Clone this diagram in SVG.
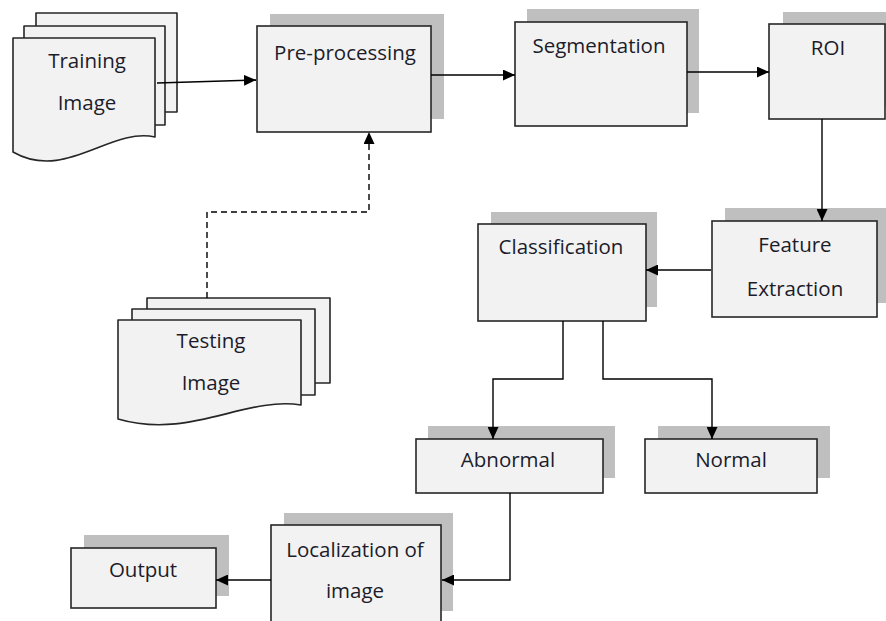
<svg xmlns="http://www.w3.org/2000/svg" width="886" height="621" viewBox="0 0 886 621">
  <defs>
    <marker id="arrow" viewBox="0 0 12 11" refX="12" refY="5.5" markerWidth="12" markerHeight="11" markerUnits="userSpaceOnUse" orient="auto">
      <path d="M0,0 L12,5.5 L0,11 Z" fill="#000"/>
    </marker>
    <style>
      .shadow { fill: #bfbfbf; stroke: none; }
      .box { fill: #f2f2f2; stroke: #262626; stroke-width: 1.6; }
      .page { fill: #f2f2f2; stroke: #262626; stroke-width: 1.6; stroke-linejoin: round; }
      .label { font-family: "Open Sans", "Noto Sans", "Liberation Sans", sans-serif; font-size: 20.5px; fill: #1c1c2a; text-anchor: middle; }
      .conn { fill: none; stroke: #000; stroke-width: 1.4; }
      .dash { stroke-dasharray: 6 4; }
    </style>
  </defs>

  <rect width="886" height="621" fill="#ffffff"/>

  <!-- Training Image: stacked documents -->
  <g id="training-image">
    <rect class="page" x="36" y="13" width="141" height="99"/>
    <rect class="page" x="24" y="26" width="141" height="99"/>
    <path class="page" d="M13,152 V38 H155 V137 C110,127 65,182 13,152 Z"/>
    <text class="label" x="87" y="68">Training</text>
    <text class="label" x="87" y="110">Image</text>
  </g>

  <g id="pre-processing">
    <rect class="shadow" x="270" y="14" width="174" height="105"/>
    <rect class="box" x="257" y="26" width="174" height="106"/>
    <text class="label" x="345" y="60">Pre-processing</text>
  </g>

  <g id="segmentation">
    <rect class="shadow" x="527" y="9" width="172" height="104"/>
    <rect class="box" x="515" y="22" width="172" height="104"/>
    <text class="label" x="599" y="53">Segmentation</text>
  </g>

  <g id="roi">
    <rect class="shadow" x="783" y="12" width="116" height="95"/>
    <rect class="box" x="769" y="24" width="116" height="95"/>
    <text class="label" x="828" y="55">ROI</text>
  </g>

  <g id="feature-extraction">
    <rect class="shadow" x="725" y="208" width="170" height="95"/>
    <rect class="box" x="712" y="221" width="165" height="96"/>
    <text class="label" x="795" y="252">Feature</text>
    <text class="label" x="795" y="296">Extraction</text>
  </g>

  <g id="classification">
    <rect class="shadow" x="491" y="212" width="166" height="95"/>
    <rect class="box" x="478" y="224" width="168" height="97"/>
    <text class="label" x="561" y="254">Classification</text>
  </g>

  <g id="abnormal">
    <rect class="shadow" x="428" y="426" width="187" height="52"/>
    <rect class="box" x="416" y="439" width="187" height="54"/>
    <text class="label" x="508" y="467">Abnormal</text>
  </g>

  <g id="normal">
    <rect class="shadow" x="658" y="426" width="172" height="52"/>
    <rect class="box" x="645" y="439" width="172" height="54"/>
    <text class="label" x="731" y="467">Normal</text>
  </g>

  <g id="localization">
    <rect class="shadow" x="284" y="513" width="169" height="98"/>
    <rect class="box" x="271" y="525" width="170" height="100"/>
    <text class="label" x="355" y="557">Localization of</text>
    <text class="label" x="355" y="598">image</text>
  </g>

  <g id="output">
    <rect class="shadow" x="84" y="535" width="145" height="61"/>
    <rect class="box" x="71" y="548" width="145" height="60"/>
    <text class="label" x="143" y="577">Output</text>
  </g>

  <!-- Testing Image: stacked documents -->
  <g id="testing-image">
    <rect class="page" x="147" y="298" width="183" height="85"/>
    <rect class="page" x="132" y="309" width="183" height="86"/>
    <path class="page" d="M118,419 V320 H301 V405 C245,396 190,440 118,419 Z"/>
    <text class="label" x="211" y="348">Testing</text>
    <text class="label" x="211" y="390">Image</text>
  </g>

  <!-- connectors, drawn over the node shadows -->
  <g id="connectors">
    <path class="conn" d="M157,83 L256,80" marker-end="url(#arrow)"/>
    <path class="conn" d="M431,75 H515" marker-end="url(#arrow)"/>
    <path class="conn" d="M687,72 H769" marker-end="url(#arrow)"/>
    <path class="conn" d="M822,119 V221" marker-end="url(#arrow)"/>
    <path class="conn" d="M711,270 H646" marker-end="url(#arrow)"/>
    <path class="conn" d="M563,321 V379 H493 V439" marker-end="url(#arrow)"/>
    <path class="conn" d="M603,321 V379 H712 V439" marker-end="url(#arrow)"/>
    <path class="conn" d="M510,493 V580 H442" marker-end="url(#arrow)"/>
    <path class="conn" d="M271,580 H216" marker-end="url(#arrow)"/>
    <path class="conn dash" d="M207,298 V212 H369 V132" marker-end="url(#arrow)"/>
  </g>
</svg>
